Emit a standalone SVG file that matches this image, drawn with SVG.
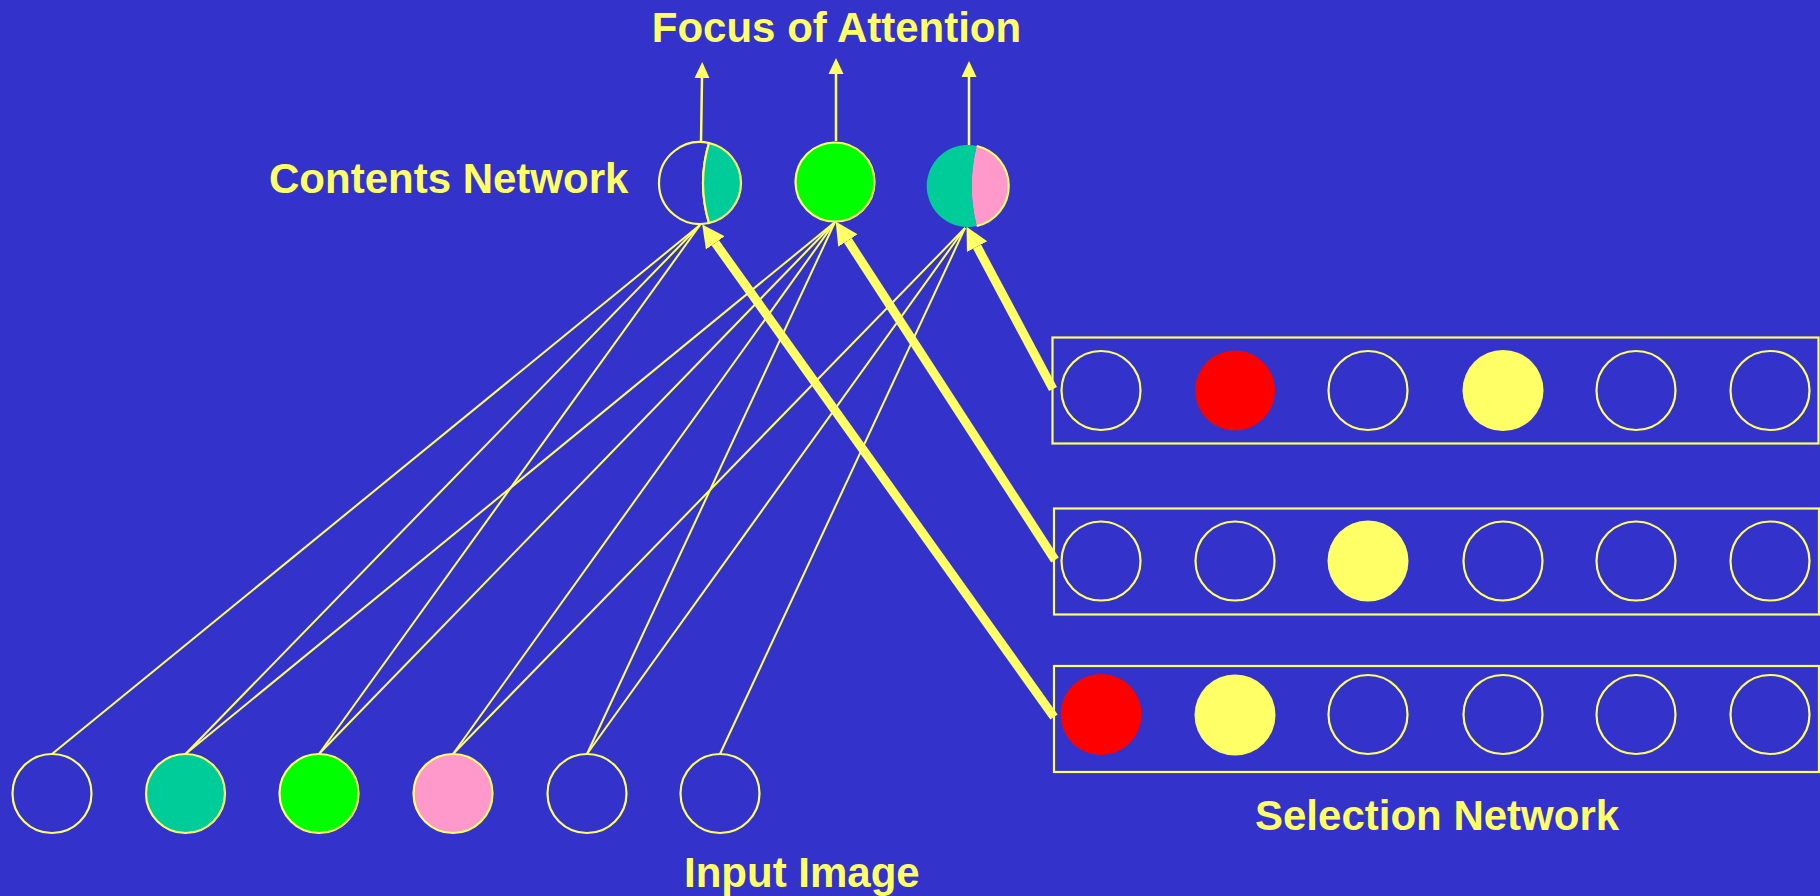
<svg xmlns="http://www.w3.org/2000/svg" width="1820" height="896" viewBox="0 0 1820 896">
<style>
.lbl{font-family:"Liberation Sans",Arial,sans-serif;font-weight:bold;font-size:42px;fill:#FFFF66}
.node{stroke:#FFFF66;stroke-width:2.2}
.empty{fill:none}
.thin{stroke:#FFFF66;stroke-width:2;fill:none}
.thick{stroke:#FFFF66;stroke-width:9;fill:none;marker-end:url(#bigHead)}
.up{stroke:#FFFF66;stroke-width:2.5;fill:none;marker-end:url(#smallHead)}
.box{fill:none;stroke:#FFFF66;stroke-width:2.2}
</style>
<defs>
<marker id="bigHead" markerUnits="userSpaceOnUse" markerWidth="24" markerHeight="26" refX="0" refY="13" orient="auto" viewBox="0 0 24 26">
<path d="M0,1.5 L22.5,13 L0,24.5 Z" fill="#FFFF66"/>
</marker>
<marker id="smallHead" markerUnits="userSpaceOnUse" markerWidth="17" markerHeight="16" refX="0" refY="8" orient="auto" viewBox="0 0 17 16">
<path d="M0,0.5 L16,8 L0,15.5 Z" fill="#FFFF66"/>
</marker>
</defs>
<rect x="0" y="0" width="1820" height="896" fill="#3333CC"/>

<g id="connectors">
<line class="thin" x1="52" y1="754" x2="700" y2="225"/>
<line class="thin" x1="185.5" y1="754" x2="700" y2="225"/>
<line class="thin" x1="185.5" y1="754" x2="835" y2="222"/>
<line class="thin" x1="319" y1="754" x2="700" y2="225"/>
<line class="thin" x1="319" y1="754" x2="835" y2="222"/>
<line class="thin" x1="453" y1="754" x2="835" y2="222"/>
<line class="thin" x1="453" y1="754" x2="965" y2="228"/>
<line class="thin" x1="587" y1="754" x2="835" y2="222"/>
<line class="thin" x1="587" y1="754" x2="965" y2="228"/>
<line class="thin" x1="720" y1="754" x2="965" y2="228"/>
<line class="thick" x1="1054" y1="717" x2="715.3" y2="242.9"/>
<line class="thick" x1="1055" y1="560" x2="847.9" y2="240.5"/>
<line class="thick" x1="1053" y1="389" x2="977.1" y2="246.7"/>
<line class="up" x1="701" y1="142" x2="702" y2="78"/>
<line class="up" x1="836" y1="141" x2="836" y2="74"/>
<line class="up" x1="969" y1="145" x2="969" y2="77"/>
</g>

<g id="contents-1">
<path class="node" fill="none" d="M709,143 A41,41 0 1 0 709,223 Q697,183 709,143 Z"/>
<path class="node" fill="#00CC99" d="M709,143 A41,41 0 0 1 709,223 Q697,183 709,143 Z"/>
</g>
<g id="contents-2">
<circle class="node" cx="835" cy="182" r="39.5" fill="#00FF00"/>
</g>
<g id="contents-3">
<path fill="#00CC99" d="M976.7,146 A41,41 0 1 0 976.7,226 Q966.7,186 976.7,146 Z"/>
<path fill="#FF99CC" d="M976.7,146 A41,41 0 0 1 976.7,226 Q966.7,186 976.7,146 Z"/>
<path fill="none" stroke="#FFFF66" stroke-width="2.2" d="M976.7,146 A41,41 0 0 1 976.7,226"/>
</g>

<g id="input-1"><circle class="node empty" cx="52" cy="793.5" r="39.5"/></g>
<g id="input-2"><circle class="node" cx="185.5" cy="793.5" r="39.5" fill="#00CC99"/></g>
<g id="input-3"><circle class="node" cx="319" cy="793.5" r="39.5" fill="#00FF00"/></g>
<g id="input-4"><circle class="node" cx="453" cy="793.5" r="39.5" fill="#FF99CC"/></g>
<g id="input-5"><circle class="node empty" cx="587" cy="793.5" r="39.5"/></g>
<g id="input-6"><circle class="node empty" cx="720" cy="793.5" r="39.5"/></g>

<g id="selection-row-1">
<rect class="box" x="1052.5" y="337.5" width="766" height="106"/>
<circle class="node empty" cx="1101" cy="390.5" r="39.5"/>
<circle cx="1235" cy="390.5" r="40" fill="#FF0000"/>
<circle class="node empty" cx="1368" cy="390.5" r="39.5"/>
<circle cx="1503" cy="390.5" r="40.5" fill="#FFFF66"/>
<circle class="node empty" cx="1636" cy="390.5" r="39.5"/>
<circle class="node empty" cx="1770" cy="390.5" r="39.5"/>
</g>
<g id="selection-row-2">
<rect class="box" x="1054" y="508.5" width="765" height="106"/>
<circle class="node empty" cx="1101" cy="561" r="39.5"/>
<circle class="node empty" cx="1235" cy="561" r="39.5"/>
<circle cx="1368" cy="561" r="40.5" fill="#FFFF66"/>
<circle class="node empty" cx="1503" cy="561" r="39.5"/>
<circle class="node empty" cx="1636" cy="561" r="39.5"/>
<circle class="node empty" cx="1770" cy="561" r="39.5"/>
</g>
<g id="selection-row-3">
<rect class="box" x="1054" y="666" width="765" height="106"/>
<circle cx="1101" cy="714.5" r="40.5" fill="#FF0000"/>
<circle cx="1235" cy="715" r="40.5" fill="#FFFF66"/>
<circle class="node empty" cx="1368" cy="714.5" r="39.5"/>
<circle class="node empty" cx="1503" cy="714.5" r="39.5"/>
<circle class="node empty" cx="1636" cy="714.5" r="39.5"/>
<circle class="node empty" cx="1770" cy="714.5" r="39.5"/>
</g>

<g id="labels">
<text class="lbl" x="836.5" y="42" text-anchor="middle">Focus of Attention</text>
<text class="lbl" x="269" y="193">Contents Network</text>
<text class="lbl" x="684" y="887">Input Image</text>
<text class="lbl" x="1255" y="830">Selection Network</text>
</g>
</svg>
